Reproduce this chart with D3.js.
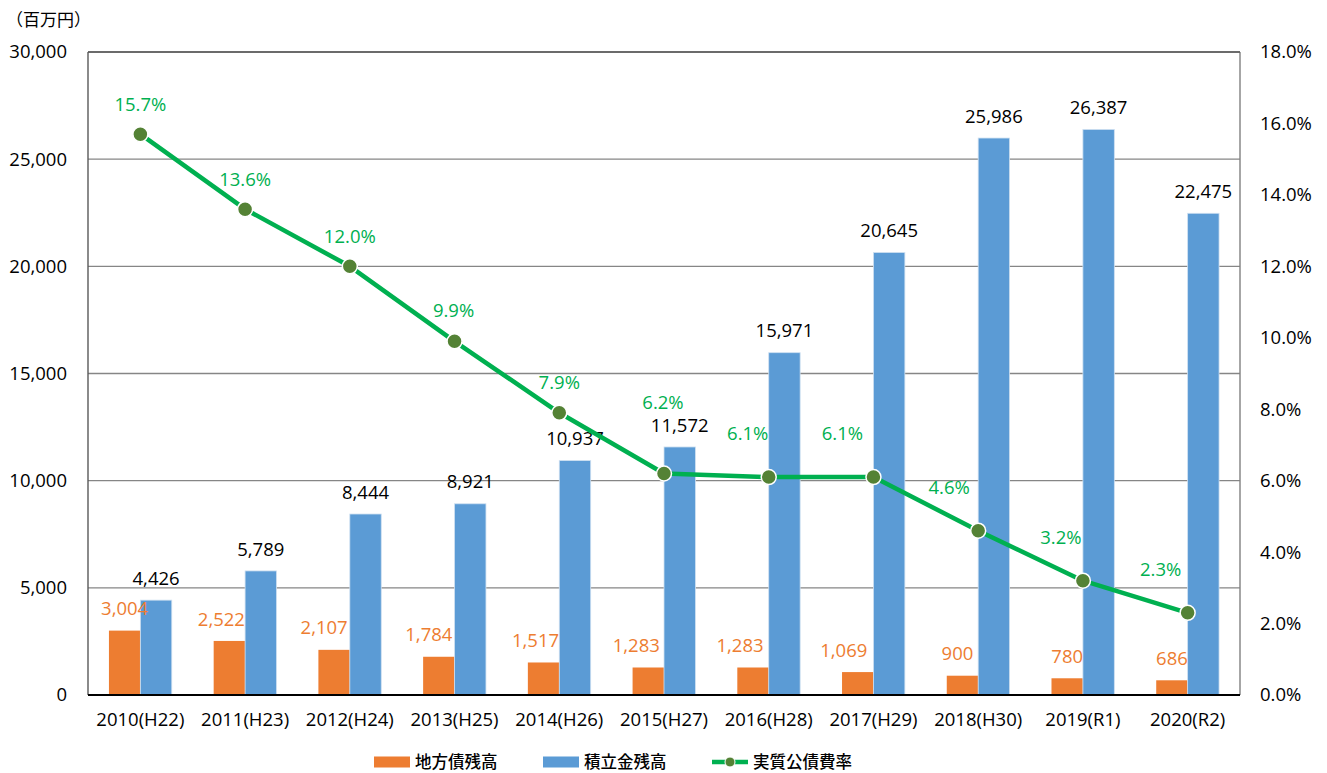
<!DOCTYPE html>
<html>
<head>
<meta charset="utf-8">
<script src="https://cdn.jsdelivr.net/npm/d3@7"></script>
<style>
  body { margin: 0; background: #fff; }
  svg text { font-family: "Open Sans", "Noto Sans CJK JP", sans-serif; }
</style>
</head>
<body>
<div id="chart"></div>
<script>
// data
const years = ["2010(H22)", "2011(H23)", "2012(H24)", "2013(H25)", "2014(H26)", "2015(H27)",
    "2016(H28)", "2017(H29)", "2018(H30)", "2019(R1)", "2020(R2)"];
const debt = [3004, 2522, 2107, 1784, 1517, 1283, 1283, 1069, 900, 780, 686];
const reserve = [4426, 5789, 8444, 8921, 10937, 11572, 15971, 20645, 25986, 26387, 22475];
const rate = [15.7, 13.6, 12.0, 9.9, 7.9, 6.2, 6.1, 6.1, 4.6, 3.2, 2.3];
const seriesNames = ["地方債残高", "積立金残高", "実質公債費率"];

// hand-placed label nudges, as in the original
const debtLabelDx = [0, -8, -10, -10, -8, -12, -13, -14, -5, 0, 0];
const rateLabelShift = [[0, -30], [0, -30], [0, -30], [-1, -31], [0, -30], [-1, -71],
    [-21, -44], [-31, -44], [-29, -43], [-22, -43], [-27, -43]];

const width = 1327, height = 773;
const plotL = 88, plotR = 1240, plotT = 52, plotB = 695;
const orange = "#ED7D31", blue = "#5B9BD5", green = "#00B050", dot = "#548235";
const fontSize = 18.5;

const svg = d3.select("#chart").append("svg")
    .attr("width", width)
    .attr("height", height);

let x = d3.scaleBand().domain(years).range([plotL, plotR]);
let x1 = d3.scaleBand().domain(["debt", "reserve"])
    .range([x.bandwidth() * 0.2, x.bandwidth() * 0.8]);
let y = d3.scaleLinear().domain([0, 30000]).range([plotB, plotT]);
let yR = d3.scaleLinear().domain([0, 18]).range([plotB, plotT]);

// gridlines
svg.append("g")
    .selectAll("line")
    .data(d3.range(5000, 30001, 5000))
    .enter().append("line")
    .attr("x1", plotL).attr("x2", plotR)
    .attr("y1", d => y(d)).attr("y2", d => y(d))
    .attr("stroke", "#868686")
    .attr("stroke-width", 1.4);

// frame sides
svg.append("line").attr("x1", plotL).attr("x2", plotL).attr("y1", plotT).attr("y2", plotB)
    .attr("stroke", "#595959").attr("stroke-width", 1.4);
svg.append("line").attr("x1", plotR).attr("x2", plotR).attr("y1", plotT).attr("y2", plotB)
    .attr("stroke", "#808080").attr("stroke-width", 1.4);

// bars
let groups = svg.append("g")
    .selectAll("g")
    .data(years)
    .enter().append("g")
    .attr("transform", d => "translate(" + x(d) + ",0)");

groups.append("rect")
    .attr("x", x1("debt"))
    .attr("width", x1.bandwidth())
    .attr("y", (d, i) => y(debt[i]))
    .attr("height", (d, i) => plotB - y(debt[i]))
    .attr("fill", orange);

groups.append("rect")
    .attr("x", x1("reserve"))
    .attr("width", x1.bandwidth())
    .attr("y", (d, i) => y(reserve[i]))
    .attr("height", (d, i) => plotB - y(reserve[i]))
    .attr("fill", blue)
    .attr("stroke", "#cfe0f1")
    .attr("stroke-width", 0.8);

// bottom axis line
svg.append("line").attr("x1", plotL).attr("x2", plotR).attr("y1", plotB).attr("y2", plotB)
    .attr("stroke", "#000").attr("stroke-width", 2);

// bar value labels
groups.append("text")
    .attr("x", (d, i) => x1("debt") + x1.bandwidth() / 2 + debtLabelDx[i])
    .attr("y", (d, i) => y(debt[i]) - 22)
    .attr("dy", "0.36em")
    .attr("text-anchor", "middle")
    .attr("font-size", fontSize)
    .attr("fill", orange)
    .text((d, i) => d3.format(",")(debt[i]));

groups.append("text")
    .attr("x", x1("reserve") + x1.bandwidth() / 2)
    .attr("y", (d, i) => y(reserve[i]) - 22)
    .attr("dy", "0.36em")
    .attr("text-anchor", "middle")
    .attr("font-size", fontSize)
    .attr("fill", "#000")
    .text((d, i) => d3.format(",")(reserve[i]));

// rate line
let cx = (d, i) => x(years[i]) + x.bandwidth() / 2;
let line = d3.line()
    .x(cx)
    .y(d => yR(d));

svg.append("path")
    .datum(rate)
    .attr("d", line)
    .attr("fill", "none")
    .attr("stroke", green)
    .attr("stroke-width", 4.5)
    .attr("stroke-linejoin", "round");

svg.append("g")
    .selectAll("circle")
    .data(rate)
    .enter().append("circle")
    .attr("cx", cx)
    .attr("cy", d => yR(d))
    .attr("r", 7.5)
    .attr("fill", dot)
    .attr("stroke", "#fff")
    .attr("stroke-width", 1.5);

svg.append("g")
    .selectAll("text")
    .data(rate)
    .enter().append("text")
    .attr("x", (d, i) => cx(d, i) + rateLabelShift[i][0])
    .attr("y", (d, i) => yR(d) + rateLabelShift[i][1])
    .attr("dy", "0.36em")
    .attr("text-anchor", "middle")
    .attr("font-size", fontSize)
    .attr("fill", green)
    .text(d => d.toFixed(1) + "%");

// axes
let axisL = svg.append("g")
    .attr("transform", "translate(" + plotL + ",0)")
    .call(d3.axisLeft(y).tickValues(d3.range(0, 30001, 5000)).tickFormat(d3.format(","))
        .tickSize(0).tickPadding(21));
let axisR = svg.append("g")
    .attr("transform", "translate(" + plotR + ",0)")
    .call(d3.axisRight(yR).tickValues(d3.range(0, 19, 2)).tickFormat(d => d.toFixed(1) + "%")
        .tickSize(0).tickPadding(20));
let axisB = svg.append("g")
    .attr("transform", "translate(0," + plotB + ")")
    .call(d3.axisBottom(x).tickSize(0).tickPadding(18));

[axisL, axisR, axisB].forEach(function(a) {
    a.select(".domain").remove();
    a.selectAll("text")
        .attr("font-size", fontSize)
        .attr("font-family", "'Open Sans', 'Noto Sans CJK JP', sans-serif")
        .attr("fill", "#000");
});

// top frame line
svg.append("line").attr("x1", plotL).attr("x2", plotR).attr("y1", plotT).attr("y2", plotT)
    .attr("stroke", "#595959").attr("stroke-width", 1.4);

// unit label
svg.append("text")
    .attr("x", 6)
    .attr("y", 20)
    .attr("dy", "0.36em")
    .attr("font-size", 17)
    .style("font-family", "'Noto Sans CJK JP', sans-serif")
    .text("（百万円）");

// legend
let legendY = 762;
let legend = svg.append("g");
legend.append("rect").attr("x", 374).attr("y", legendY - 5.5).attr("width", 36).attr("height", 11)
    .attr("fill", orange);
legend.append("rect").attr("x", 543).attr("y", legendY - 5.5).attr("width", 36).attr("height", 11)
    .attr("fill", blue);
legend.append("line").attr("x1", 712).attr("x2", 748).attr("y1", legendY).attr("y2", legendY)
    .attr("stroke", green).attr("stroke-width", 4.5);
legend.append("circle").attr("cx", 730).attr("cy", legendY).attr("r", 5)
    .attr("fill", dot).attr("stroke", "#fff").attr("stroke-width", 1);

legend.selectAll("text")
    .data(seriesNames)
    .enter().append("text")
    .attr("x", (d, i) => [415, 584, 753][i])
    .attr("y", legendY)
    .attr("dy", "0.36em")
    .attr("font-size", 16.5)
    .attr("font-weight", 500)
    .style("font-family", "'Noto Sans CJK JP', sans-serif")
    .text(d => d);
</script>
</body>
</html>
